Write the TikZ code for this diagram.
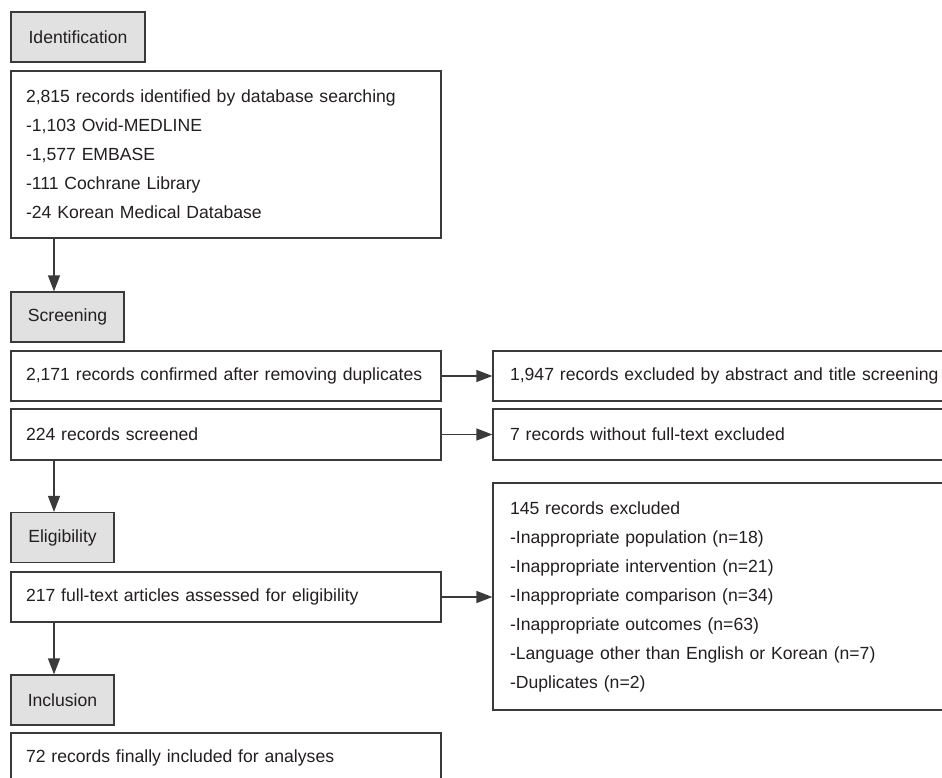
\documentclass[tikz,border=0pt]{standalone}
\usepackage{fontspec}
\setmainfont{Liberation Sans}
\usetikzlibrary{arrows.meta}
\definecolor{linec}{HTML}{3A3A3A}
\definecolor{stagefill}{HTML}{E1E1E1}
\definecolor{txt}{HTML}{231F20}
\begin{document}
\begin{tikzpicture}[x=1pt,y=-1pt,
  font=\fontsize{17.6}{29}\selectfont, text=txt,
  basebox/.style={draw=linec, line width=1.3pt, rectangle, inner ysep=0pt, anchor=center},
  stagebox/.style={basebox, fill=stagefill, minimum height=50pt, inner xsep=0pt},
  leftbox/.style={basebox, fill=white, minimum width=430pt, inner xsep=15pt, text width=400pt, align=left},
  rightbox/.style={basebox, fill=white, minimum width=477pt, inner xsep=17pt, text width=443pt, align=left},
  arr/.style={draw=linec, line width=1.3pt, -{Triangle[length=16pt,width=12pt]}}
]
\useasboundingbox (0,0) rectangle (942,778);
\clip (0,0) rectangle (942,778);
\fill[white] (0,0) rectangle (942,778);

% stage labels
\node[stagebox, minimum width=134pt] (ident) at (78,37) {Identification};
\node[stagebox, minimum width=113pt] (scr) at (67.5,317) {Screening};
\node[stagebox, minimum width=103pt] (elig) at (62.5,537.5) {Eligibility};
\node[stagebox, minimum width=103pt] (incl) at (62.5,700) {Inclusion};

% main column
\node[leftbox, minimum height=167pt] (rec) at (226,154.5) {2,815 records identified by database searching\\-1,103 Ovid-MEDLINE\\-1,577 EMBASE\\-111 Cochrane Library\\-24 Korean Medical Database};
\node[leftbox, minimum height=50pt] (dup) at (226,376) {2,171 records confirmed after removing duplicates};
\node[leftbox, minimum height=51pt] (scrd) at (226,434.5) {224 records screened};
\node[leftbox, minimum height=50pt] (full) at (226,597) {217 full-text articles assessed for eligibility};
\node[leftbox, minimum height=50pt] (final) at (226,758) {72 records finally included for analyses};

% exclusion column
\node[rightbox, minimum height=50pt] (ex1) at (731.5,376) {1,947 records excluded by abstract and title screening};
\node[rightbox, minimum height=51pt] (ex2) at (731.5,434.5) {7 records without full-text excluded};
\node[rightbox, minimum height=227pt] (ex3) at (731.5,596.5) {145 records excluded\\-Inappropriate population (n=18)\\-Inappropriate intervention (n=21)\\-Inappropriate comparison (n=34)\\-Inappropriate outcomes (n=63)\\-Language other than English or Korean (n=7)\\-Duplicates (n=2)};

% connectors
\coordinate (ax) at (54,0);
\draw[arr] (rec.south -| ax) -- (scr.north -| ax);
\draw[arr] (scrd.south -| ax) -- (elig.north -| ax);
\draw[arr] (full.south -| ax) -- (incl.north -| ax);
\draw[arr] (dup.east) -- (ex1.west);
\draw[arr] (scrd.east) -- (ex2.west);
\draw[arr] (full.east) -- (full.east -| ex3.west);
\end{tikzpicture}
\end{document}
